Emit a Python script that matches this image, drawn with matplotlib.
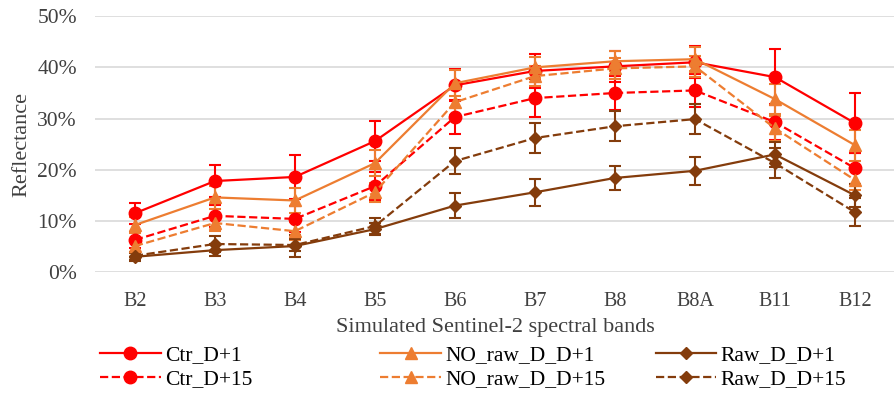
import matplotlib.pyplot as plt
import numpy as np

plt.rcParams['font.family'] = ['Liberation Serif', 'DejaVu Serif']

# band labels
bands = ["B2", "B3", "B4", "B5", "B6", "B7", "B8", "B8A", "B11", "B12"]

# reflectance (%) and std error bars
ctr_d1 = [11.5, 17.8, 18.6, 25.6, 36.5, 39.3, 40.2, 41.0, 38.1, 29.1]
ctr_d1_err = [2.1, 3.1, 4.3, 3.9, 3.1, 3.3, 3.0, 3.1, 5.5, 5.9]
ctr_d15 = [6.3, 11.0, 10.4, 16.8, 30.3, 34.0, 35.0, 35.5, 29.3, 20.3]
ctr_d15_err = [1.5, 2.2, 2.5, 2.8, 3.3, 3.7, 3.3, 3.2, 3.5, 3.0]
no_d1 = [9.2, 14.6, 14.0, 21.3, 36.9, 40.0, 41.2, 41.6, 33.8, 24.8]
no_d1_err = [1.5, 2.2, 2.5, 2.5, 2.5, 2.0, 2.0, 2.4, 3.0, 3.0]
no_d15 = [5.1, 9.6, 8.0, 15.6, 33.2, 38.3, 39.8, 40.2, 28.1, 18.0]
no_d15_err = [1.2, 1.5, 1.8, 1.8, 2.5, 2.0, 2.0, 2.0, 2.5, 2.0]
raw_d1 = [3.0, 4.3, 5.1, 8.4, 13.0, 15.6, 18.4, 19.8, 23.0, 15.0]
raw_d1_err = [0.8, 1.2, 2.1, 1.2, 2.5, 2.6, 2.4, 2.7, 2.5, 2.2]
raw_d15 = [3.2, 5.5, 5.3, 9.0, 21.7, 26.2, 28.5, 29.9, 21.3, 11.7]
raw_d15_err = [0.8, 1.5, 1.2, 1.5, 2.6, 2.9, 2.9, 2.9, 2.9, 2.7]

red = '#FF0000'
orange = '#ED7D31'
brown = '#843C0C'

series = [
    ("Ctr_D+1", ctr_d1, ctr_d1_err, red, '-', 'o', 9),
    ("Ctr_D+15", ctr_d15, ctr_d15_err, red, '--', 'o', 9),
    ("NO_raw_D_D+1", no_d1, no_d1_err, orange, '-', '^', 8.5),
    ("NO_raw_D_D+15", no_d15, no_d15_err, orange, '--', '^', 8.5),
    ("Raw_D_D+1", raw_d1, raw_d1_err, brown, '-', 'D', 6.5),
    ("Raw_D_D+15", raw_d15, raw_d15_err, brown, '--', 'D', 6.5),
]

fig = plt.figure(figsize=(8.95, 3.95), dpi=100)
ax = fig.add_axes([0.106, 0.311, 0.894, 0.648])

x = np.arange(len(bands))
handles = []
for name, vals, err, col, ls, mk, ms in series:
    h = ax.errorbar(x, np.array(vals) / 100, yerr=np.array(err) / 100,
                    color=col, linestyle=ls, linewidth=1.6, marker=mk,
                    markersize=ms, capsize=4, capthick=1.5, elinewidth=1.5,
                    label=name)
    handles.append(h)

ax.set_xlim(-0.5, 9.5)
ax.set_ylim(0, 0.5)
ax.set_yticks(np.arange(0, 0.51, 0.1))
ax.set_yticklabels(["%d%%" % v for v in range(0, 51, 10)])
ax.set_xticks(x)
ax.set_xticklabels(bands)
ax.tick_params(length=0, colors='#404040')
ax.tick_params(axis='y', labelsize=15.5, pad=13)
ax.tick_params(axis='x', labelsize=14.5, pad=14)
ax.grid(axis='y', color='#D9D9D9', linewidth=1.2)
ax.set_axisbelow(True)
for s in ax.spines.values():
    s.set_visible(False)

ax.set_ylabel("Reflectance", fontsize=16, color='#404040', labelpad=4)
ax.set_xlabel("Simulated Sentinel-2 spectral bands", fontsize=16, color='#404040', labelpad=5)

# legend: three columns placed separately
col_x = [0.112, 0.425, 0.733]
for i in range(3):
    pair = handles[2 * i:2 * i + 2]
    fig.legend([h[0] for h in pair], [s[0] for s in series[2 * i:2 * i + 2]],
               loc='center left', bbox_to_anchor=(col_x[i], 0.07),
               frameon=False, fontsize=15.5, borderpad=0, handlelength=2.8,
               labelspacing=0.2, handletextpad=0.2, borderaxespad=0)

fig.savefig("out.png", dpi=100)
